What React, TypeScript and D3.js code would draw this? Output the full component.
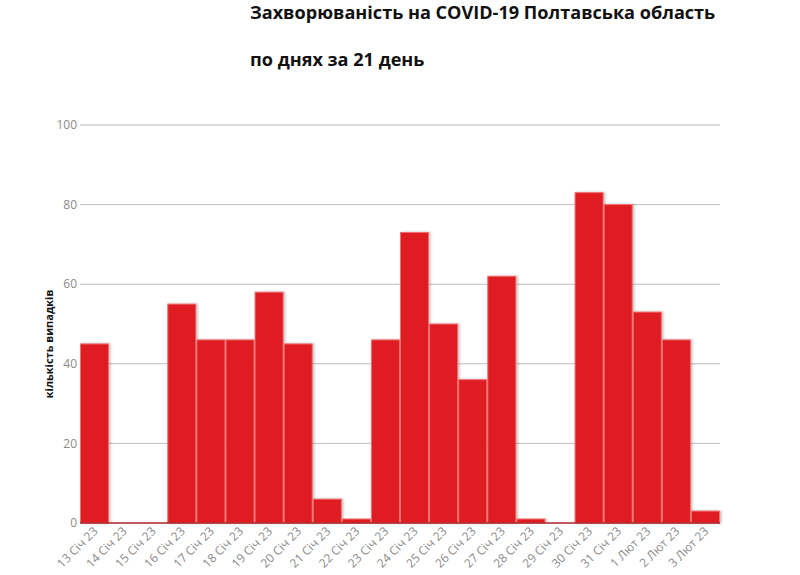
import React from 'react';
import * as d3 from 'd3';

// day labels as shown under the bars
const days = [
  '13 Січ 23', '14 Січ 23', '15 Січ 23', '16 Січ 23', '17 Січ 23', '18 Січ 23',
  '19 Січ 23', '20 Січ 23', '21 Січ 23', '22 Січ 23', '23 Січ 23', '24 Січ 23',
  '25 Січ 23', '26 Січ 23', '27 Січ 23', '28 Січ 23', '29 Січ 23', '30 Січ 23',
  '31 Січ 23', '1 Лют 23', '2 Лют 23', '3 Лют 23',
];

// new cases per day
const cases = [45, 0, 0, 55, 46, 46, 58, 45, 6, 1, 46, 73, 50, 36, 62, 1, 0, 83, 80, 53, 46, 3];

const yTicks = [0, 20, 40, 60, 80, 100];

const titleLines = ['Захворюваність на COVID-19 Полтавська область', 'по днях за 21 день'];
const yLabel = 'кількість випадків';

const width = 800;
const height = 575;
const margin = { top: 125, right: 80, bottom: 52, left: 80 };

export default function App() {
  const innerW = width - margin.left - margin.right;
  const innerH = height - margin.top - margin.bottom;

  const x = d3.scaleBand<string>().domain(days).range([margin.left, margin.left + innerW]).padding(0);
  const y = d3.scaleLinear().domain([0, 100]).range([margin.top + innerH, margin.top]);

  const font = '"Open Sans", "Noto Sans", sans-serif';

  return (
    <svg
      width={width}
      height={height}
      style={{ position: 'absolute', left: 0, top: 0, background: '#fff' }}
      fontFamily={font}
    >
      <defs>
        <filter id="shadow" x="-10%" y="-10%" width="130%" height="130%">
          <feDropShadow dx="1.5" dy="0" stdDeviation="1" floodColor="#000" floodOpacity="0.25" />
        </filter>
      </defs>

      {/* title */}
      {titleLines.map((t, i) => (
        <text key={t} x={250} y={19 + i * 47} fontSize={18.1} fontWeight={700} fill="#111">
          {t}
        </text>
      ))}

      {/* grid + y ticks */}
      {yTicks.map(t => (
        <g key={t}>
          {t > 0 && (
            <line x1={margin.left} x2={margin.left + innerW} y1={y(t)} y2={y(t)} stroke="#bdbdbd" strokeWidth={1} />
          )}
          <text x={margin.left - 3} y={y(t)} dy="0.35em" textAnchor="end" fontSize={12} fill="#8a8a8a">
            {t}
          </text>
        </g>
      ))}

      {/* y label */}
      <text
        transform={`translate(53,344) rotate(-90)`}
        textAnchor="middle"
        fontSize={11}
        fontWeight={700}
        fill="#111"
      >
        {yLabel}
      </text>

      {/* bars */}
      {days.map((d, i) => {
        const v = cases[i];
        const x0 = x(d)!;
        const top = y(v);
        return (
          <rect
            key={d}
            x={x0 + 0.5}
            y={top}
            width={x.bandwidth() - 1}
            height={Math.max(0, y(0) - top)}
            fill="#df1a20"
            stroke="#f07070"
            strokeWidth={1}
            filter="url(#shadow)"
          />
        );
      })}

      {/* baseline */}
      <line x1={margin.left} x2={margin.left + innerW} y1={y(0)} y2={y(0)} stroke="#a8262a" strokeWidth={1.5} />

      {/* x labels */}
      {days.map(d => {
        const cx = x(d)! + x.bandwidth() / 2;
        return (
          <text
            key={d}
            transform={`translate(${cx + 4},${y(0) + 9}) rotate(-45)`}
            textAnchor="end"
            fontSize={12}
            fill="#8a8a8a"
          >
            {d}
          </text>
        );
      })}
    </svg>
  );
}
